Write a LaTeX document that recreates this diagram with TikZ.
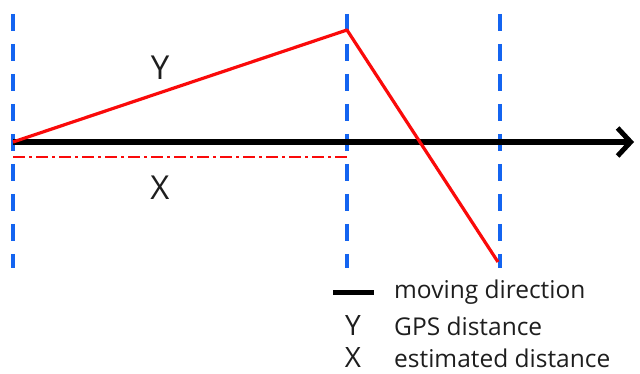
\documentclass[tikz,border=0pt]{standalone}
\usepackage{fontspec}
\setmainfont{Open Sans}
\usetikzlibrary{arrows.meta}
\definecolor{gblue}{RGB}{20,100,240}
\definecolor{gred}{RGB}{250,10,10}
\definecolor{gtext}{RGB}{30,30,30}
\tikzset{
  guide/.style={draw=gblue, line width=4pt, dash pattern=on 17pt off 13pt},
  gps/.style={draw=gred, line width=3.2pt, line join=round},
  est/.style={draw=gred, line width=2pt, dash pattern=on 12pt off 4pt on 3pt off 4pt},
  move/.style={draw=black, line width=6pt, -{Straight Barb[length=13pt,width=28pt,line width=5pt]}},
  biglbl/.style={text=gtext, font=\fontsize{33}{33}\selectfont, inner sep=0pt},
  legsym/.style={text=gtext, font=\fontsize{28}{28}\selectfont, inner sep=0pt},
  legtxt/.style={text=gtext, font=\fontsize{24.5}{24.5}\selectfont, inner sep=0pt, anchor=west},
}
\begin{document}
\begin{tikzpicture}[x=1pt,y=-1pt]
\useasboundingbox (0,0) rectangle (640,374);
% guides
\coordinate (g1t) at (13,14); \coordinate (g1b) at (13,268);
\coordinate (g2t) at (347,14); \coordinate (g2b) at (347,268);
\coordinate (g3t) at (500,14); \coordinate (g3b) at (500,268);
\draw[guide] (g1t) -- (g1b);
\draw[guide] (g2t) -- (g2b);
\draw[guide] (g3t) -- (g3b);
% moving direction
\coordinate (start) at (13,142);
\coordinate (tip) at (634,142);
\draw[move] (start) -- (tip);
% GPS path
\coordinate (peak) at (347,30);
\coordinate (low) at (498,262);
\draw[gps] (start) -- (peak) -- (low);
% estimated
\coordinate (e1) at (13,157); \coordinate (e2) at (347,157);
\draw[est] (e1) -- (e2);
\node[biglbl] (Y) at (160,68) {Y};
\node[biglbl] (X) at (160,188) {X};
% legend
\coordinate (l1) at (333,292); \coordinate (l2) at (374,292);
\draw[black, line width=5pt] (l1) -- (l2);
\node[legtxt] (t1) at (394,292) {moving direction};
\node[legsym] (s2) at (353,326) {Y};
\node[legtxt] (t2) at (394,326) {GPS distance};
\node[legsym] (s3) at (353,358) {X};
\node[legtxt] (t3) at (394,358) {estimated distance};
\end{tikzpicture}
\end{document}
